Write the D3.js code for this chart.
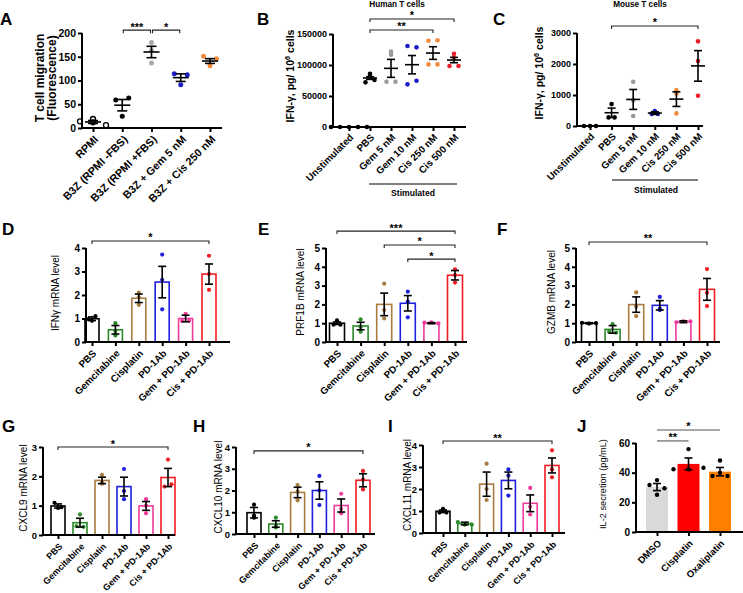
<!DOCTYPE html>
<html><head><meta charset="utf-8">
<script src="https://cdn.jsdelivr.net/npm/d3@7"></script>
<style>body{margin:0;background:#fff} text{font-family:"Liberation Sans",Arial,sans-serif}</style>
</head><body><svg id="c" width="743" height="593"></svg>
<script>
// ---------- DATA ----------
const catsA = ["RPMI","B3Z (RPMI -FBS)","B3Z (RPMI +FBS)","B3Z + Gem 5 nM","B3Z + Cis 250 nM"];
const ptsA  = [[19,14,12,6],[59,63,25],[180,137,163],[114,112,91],[151,146,131]];
const meanA = [12.7,48,160,106,141];
const semA  = [3,12,12,8,5];
const ticksA = [0,50,100,150,200];
const sigA = [[1,2,"***",206],[2,3,"*",206]];

const catsBC = ["Unstimulated","PBS","Gem 5 nM","Gem 10 nM","Cis 250 nM","Cis 500 nM"];
const ptsB  = [[0,0,0,0,0],[86000,82000,72000,76000],[121500,116700,73100,73100],[130600,128500,68800,74700],[139000,139800,101000,101000],[118000,98400,98400,112000]];
const meanB = [0,79000,94600,100500,119300,108000];
const semB  = [0,2150,14500,14800,10200,4300];
const ticksB = [0,50000,100000,150000];
const sigB = [[1,5,"*",174200],[1,4,"**",156500]];

const ptsC  = [[0,0,0],[707,278,278],[1424,321,826],[385,482,385],[1157,407,1040],[2731,2099,975]];
const meanC = [0,428,857,418,867,1939];
const semC  = [0,150,321,43,236,493];
const ticksC = [0,1000,2000,3000];
const sigC = [[1,5,"*",3226]];

const catsTx = ["PBS","Gemcitabine","Cisplatin","PD-1Ab","Gem + PD-1Ab","Cis + PD-1Ab"];
const ptsD  = [[0.9,0.97,1.1],[0.8,0.28,0.47],[2.1,1.9,1.58],[3.72,2.65,1.39],[1.2,0.9,0.9],[3.67,2.89,2.22]];
const meanD = [0.99,0.52,1.86,2.55,1.0,2.89];
const semD  = [0.08,0.18,0.18,0.67,0.14,0.43];
const sigD = [[0,5,"*",4.3]];

const ptsE  = [[1.15,0.92,0.92],[1.2,0.8,0.55],[3.1,1.7,1.25],[2.68,2.15,1.31],[1.03,1.05,0.99],[3.87,3.16,3.56]];
const meanE = [1.0,0.85,2.0,2.06,1.0,3.55];
const semE  = [0.07,0.2,0.6,0.41,0.03,0.25];
const sigE = [[0,5,"***",5.9],[2,5,"*",5.16],[3,5,"*",4.41]];

const ptsF  = [[1.02,0.98,1.0],[0.95,0.55,0.5],[2.64,1.88,1.38],[2.4,1.78,1.7],[1.05,1.1,1.1],[3.88,2.62,1.91]];
const meanF = [1.0,0.67,1.99,1.95,1.08,2.8];
const semF  = [0.03,0.2,0.41,0.25,0.05,0.58];
const sigF = [[0,5,"**",5.32]];

const ptsG  = [[1.1,0.92,0.95],[0.7,0.3,0.28],[2.05,1.8,1.75],[2.25,1.5,1.22],[1.22,0.74,1.0],[2.57,1.65,1.73]];
const meanG = [0.99,0.42,1.86,1.65,0.99,1.96];
const semG  = [0.07,0.15,0.11,0.32,0.15,0.31];
const sigG = [[0,5,"*",3.0]];

const ptsH  = [[1.35,0.85,0.75],[0.75,0.35,0.3],[2.25,1.55,1.95],[2.67,1.33,2.0],[1.85,0.95,1.15],[2.9,2.05,2.5]];
const meanH = [0.98,0.46,1.91,2.0,1.31,2.47];
const semH  = [0.24,0.15,0.24,0.4,0.3,0.3];
const sigH = [[0,5,"*",3.82]];

const ptsI  = [[1.1,0.93,0.93],[0.5,0.38,0.38],[3.15,2.0,1.5],[2.89,2.61,1.7],[2.05,1.19,0.84],[3.76,2.89,2.53]];
const meanI = [0.99,0.43,2.22,2.39,1.35,3.07];
const semI  = [0.06,0.06,0.55,0.38,0.38,0.34];
const sigI = [[0,5,"**",4.18]];

const catsJ = ["DMSO","Cisplatin","Oxaliplatin"];
const ptsJ  = [[35,31.7,29.5,25.1],[55.9,42.3,42.3,43.3],[48.2,37.8,37.8,40]];
const meanJ = [30.3,45.9,40.7];
const semJ  = [2.4,4.0,2.8];
const ticksJ = [0,20,40,60];
const sigJ = [[0,2,"*",68.8],[0,1,"**",61.4]];

// ---------- STYLE ----------
const colA = ["#000","#000","#a9a9a9","#1c1cc8","#f08a3c"];
const colBC = ["#000","#000","#9a9a9a","#1c1cc8","#f08a3c","#e8202a"];
const colTx = ["#000","#2a8a2a","#a87c3e","#1f1fe0","#ee3b9a","#f01c24"];
const fillJ = ["#d9d9d9","#ff0000","#ff8000"];

const S = d3.select("#c");

function drawPanel(c) {
  const n = c.cats.length;
  const y = d3.scaleLinear().domain([0, c.max]).range([c.y0, c.yTop]);
  const x = d3.scalePoint().domain(d3.range(n)).range([c.c0, c.c1]);
  const g = S.append("g");
  if (c.type === "bar") {
    g.selectAll("rect.bar").data(c.mean).join("rect")
      .attr("x", (d,i) => x(i) - c.bw/2).attr("y", d => y(d))
      .attr("width", c.bw).attr("height", d => c.y0 - y(d))
      .attr("fill", (d,i) => c.fill ? c.fill[i] : "#fff")
      .attr("stroke", (d,i) => c.fill ? "none" : c.colors[i])
      .attr("stroke-width", 1.6);
  }
  // points (binned spread)
  c.pts.forEach((arr, i) => {
    const items = arr.map(v => ({v, py: y(v)}));
    const bins = d3.group(items, d => Math.round((c.y0 - d.py) / c.binH));
    for (const [, grp] of bins) {
      const k = grp.length;
      grp.forEach((d, m) => { d.px = x(i) + (m - (k-1)/2) * c.sp; });
    }
    g.selectAll(null).data(items).join("circle")
      .attr("cx", d => d.px).attr("cy", d => d.py).attr("r", c.r)
      .attr("fill", c.open && c.open[i] ? "#fff" : c.ptColors[i])
      .attr("stroke", c.open && c.open[i] ? "#000" : "none")
      .attr("stroke-width", 1.3);
  });
  // error bars
  const eg = g.append("g").attr("stroke", "#000").attr("stroke-width", 1.6).attr("fill", "none");
  c.mean.forEach((m, i) => {
    const s = c.sem[i], cx = x(i);
    if (c.type !== "bar") {
      eg.append("line").attr("x1", cx - c.mw).attr("x2", cx + c.mw).attr("y1", y(m)).attr("y2", y(m));
    }
    if (s > 0) {
      eg.append("line").attr("x1", cx).attr("x2", cx).attr("y1", y(m - s)).attr("y2", y(m + s));
      eg.append("line").attr("x1", cx - c.cw).attr("x2", cx + c.cw).attr("y1", y(m + s)).attr("y2", y(m + s));
      eg.append("line").attr("x1", cx - c.cw).attr("x2", cx + c.cw).attr("y1", y(m - s)).attr("y2", y(m - s));
    }
  });
  // axes
  const ya = d3.axisLeft(y).tickValues(c.ticks).tickSize(4).tickSizeOuter(0).tickPadding(2).tickFormat(d3.format("d"));
  const ga = g.append("g").attr("transform", `translate(${c.ax},0)`).call(ya);
  ga.select(".domain").attr("d", `M0,${c.y0 + 1}V${c.yTop}`).attr("stroke-width", 2);
  ga.selectAll(".tick line").attr("stroke-width", 2);
  ga.selectAll(".tick text").attr("font-size", c.tf).attr("font-weight", "bold")
    .attr("font-family", '"Liberation Sans",Arial,sans-serif').attr("fill", "#000");
  const xa = d3.axisBottom(x).tickSize(4).tickSizeOuter(0).tickFormat("");
  const gx = g.append("g").attr("transform", `translate(0,${c.y0})`).call(xa);
  gx.select(".domain").attr("d", `M${c.ax},0H${c.xEnd}`).attr("stroke-width", 2);
  gx.selectAll(".tick line").attr("stroke-width", 2);
  // x labels
  g.selectAll("text.xl").data(c.cats).join("text").attr("class", "xl")
    .attr("transform", (d,i) => `translate(${x(i) + c.lx},${c.y0 + c.ly}) rotate(-45)`)
    .attr("text-anchor", "end").attr("font-size", c.xf).attr("font-weight", "bold").text(d => d);
  // y label(s)
  c.ylabs.forEach(([lx, ly, fill]) => {
    const t = g.append("text").attr("transform", `translate(${lx},${ly}) rotate(-90)`)
      .attr("text-anchor", "middle").attr("font-size", c.yf).attr("font-weight", c.ylb ? "bold" : "normal");
    fill(t);
  });
  // significance
  c.sig.forEach(([a, b, lab, v]) => {
    const yy = y(v), xa1 = x(a) + (c.inset || 0), xb = x(b) - (c.inset || 0);
    const t = c.noTicks ? 0 : 3;
    g.append("path").attr("d", `M${xa1},${yy + t}V${yy}H${xb}V${yy + t}`)
      .attr("fill", "none").attr("stroke", c.sigCol || "#222").attr("stroke-width", 1.1);
    g.append("text").attr("x", (xa1 + xb) / 2).attr("y", yy + 0.5).attr("text-anchor", "middle")
      .attr("font-size", 11).attr("font-weight", "bold").text(lab);
  });
}

const base = {binH: 5, r: 2.2, mw: 7, cw: 4, inset: 0};
const txTpl = (ax, xEnd, y0, yTop, max, c0, c1, bw) => Object.assign({}, base, {
  type: "bar", cats: catsTx, colors: colTx, ptColors: colTx, ax, xEnd, y0, yTop, max,
  ticks: d3.range(0, max + 1), c0, c1, bw, sp: 7, r: 2.1, tf: 10, xf: 9.8, lx: 5, ly: 12, yf: 10, cw: 4
});
const txt = s => t => t.text(s);

// A
drawPanel(Object.assign({}, base, {
  cats: catsA, pts: ptsA, mean: meanA, sem: semA, ticks: ticksA, sig: sigA, max: 200,
  ax: 82, xEnd: 222, y0: 128, yTop: 33, c0: 93, c1: 210, colors: colA, ptColors: colA,
  open: [true,false,false,false,false], r: 2.5, sp: 13, mw: 8, cw: 5, tf: 10.5, xf: 10.8, lx: 6, ly: 12,
  yf: 12, ylb: true, inset: 1,
  ylabs: [[44, 78, txt("T cell migration")], [55.5, 78, txt("(Fluorescence)")]]
}));

function ifnLabel(t) {
  t.append("tspan").text("IFN-γ, pg/ 10");
  t.append("tspan").attr("dy", -4).attr("font-size", "0.7em").text("6");
  t.append("tspan").attr("dy", 4).text(" cells");
}
// B
drawPanel(Object.assign({}, base, {
  cats: catsBC, pts: ptsB, mean: meanB, sem: semB, ticks: ticksB, sig: sigB, max: 150000,
  ax: 333, xEnd: 466, y0: 127, yTop: 34, c0: 349, c1: 454, colors: colBC, ptColors: colBC,
  r: 2.3, sp: 9, tf: 9, xf: 9.8, lx: 5, ly: 11, yf: 10.5, ylb: true, ylabs: [[294, 76, ifnLabel]]
}));
// C
drawPanel(Object.assign({}, base, {
  cats: catsBC, pts: ptsC, mean: meanC, sem: semC, ticks: ticksC, sig: sigC, max: 3000,
  ax: 577, xEnd: 703, y0: 126, yTop: 33, c0: 590, c1: 698, colors: colBC, ptColors: colBC,
  r: 2.3, sp: 6, tf: 9, xf: 9.8, lx: 5, ly: 11, yf: 10.5, ylb: true, ylabs: [[543, 73, ifnLabel]]
}));
// D-F
drawPanel(Object.assign(txTpl(86, 230, 342, 248, 4, 92, 209, 14), {pts: ptsD, mean: meanD, sem: semD, sig: sigD,
  ylabs: [[58.5, 293, txt("IFNγ mRNA level")]]}));
drawPanel(Object.assign(txTpl(326, 467, 342, 248, 5, 337, 455, 15), {pts: ptsE, mean: meanE, sem: semE, sig: sigE,
  ylabs: [[304, 292, txt("PRF1B mRNA level")]]}));
drawPanel(Object.assign(txTpl(576, 720, 342, 248, 5, 589, 707, 15), {pts: ptsF, mean: meanF, sem: semF, sig: sigF,
  ylabs: [[555, 292, txt("GZMB mRNA level")]]}));
// G-I
drawPanel(Object.assign(txTpl(43, 175, 535, 447, 3, 58, 168, 14), {pts: ptsG, mean: meanG, sem: semG, sig: sigG,
  tf: 9.5, xf: 9, ylabs: [[27, 488, txt("CXCL9 mRNA level")]]}));
drawPanel(Object.assign(txTpl(236, 375, 534, 447, 4, 254, 363, 14), {pts: ptsH, mean: meanH, sem: semH, sig: sigH,
  tf: 9.5, xf: 9, ylabs: [[222, 487, txt("CXCL10 mRNA level")]]}));
drawPanel(Object.assign(txTpl(423, 565, 533, 445, 4, 443, 552, 14), {pts: ptsI, mean: meanI, sem: semI, sig: sigI,
  tf: 9.5, xf: 9, ylabs: [[411, 485, txt("CXCL11 mRNA level")]]}));
// J
drawPanel(Object.assign({}, base, {
  type: "bar", cats: catsJ, pts: ptsJ, mean: meanJ, sem: semJ, ticks: ticksJ, sig: sigJ, max: 60,
  ax: 636, xEnd: 743, y0: 532, yTop: 443, c0: 657, c1: 720, bw: 22, fill: fillJ,
  ptColors: ["#000","#000","#000"], r: 2.2, sp: 15, binH: 5, tf: 10, xf: 9.6, lx: 5, ly: 12,
  yf: 9.2, ylb: false, noTicks: true, sigCol: "#555",
  ylabs: [[606, 484, txt("IL-2 secretion (pg/mL)")]]
}));

// titles, brackets, letters
const ann = S.append("g").attr("font-weight", "bold");
ann.append("text").attr("x", 397).attr("y", 7).attr("text-anchor", "middle").attr("font-size", 8.2).text("Human T cells");
ann.append("text").attr("x", 640).attr("y", 7).attr("text-anchor", "middle").attr("font-size", 8.2).text("Mouse T cells");
ann.append("line").attr("x1", 369).attr("x2", 457).attr("y1", 184).attr("y2", 184).attr("stroke", "#000").attr("stroke-width", 1.2);
ann.append("text").attr("x", 413).attr("y", 196).attr("text-anchor", "middle").attr("font-size", 8.6).text("Stimulated");
ann.append("line").attr("x1", 612).attr("x2", 698).attr("y1", 180).attr("y2", 180).attr("stroke", "#000").attr("stroke-width", 1.2);
ann.append("text").attr("x", 656).attr("y", 193).attr("text-anchor", "middle").attr("font-size", 8.6).text("Stimulated");
const letters = [["A",0,25],["B",257,25],["C",493,25],["D",2,235],["E",258,235],["F",497,235],["G",2,432],["H",193,432],["I",388,432],["J",577,432]];
ann.selectAll("text.lt").data(letters).join("text").attr("class", "lt")
  .attr("x", d => d[1]).attr("y", d => d[2]).attr("font-size", 17).text(d => d[0]);
</script></body></html>
